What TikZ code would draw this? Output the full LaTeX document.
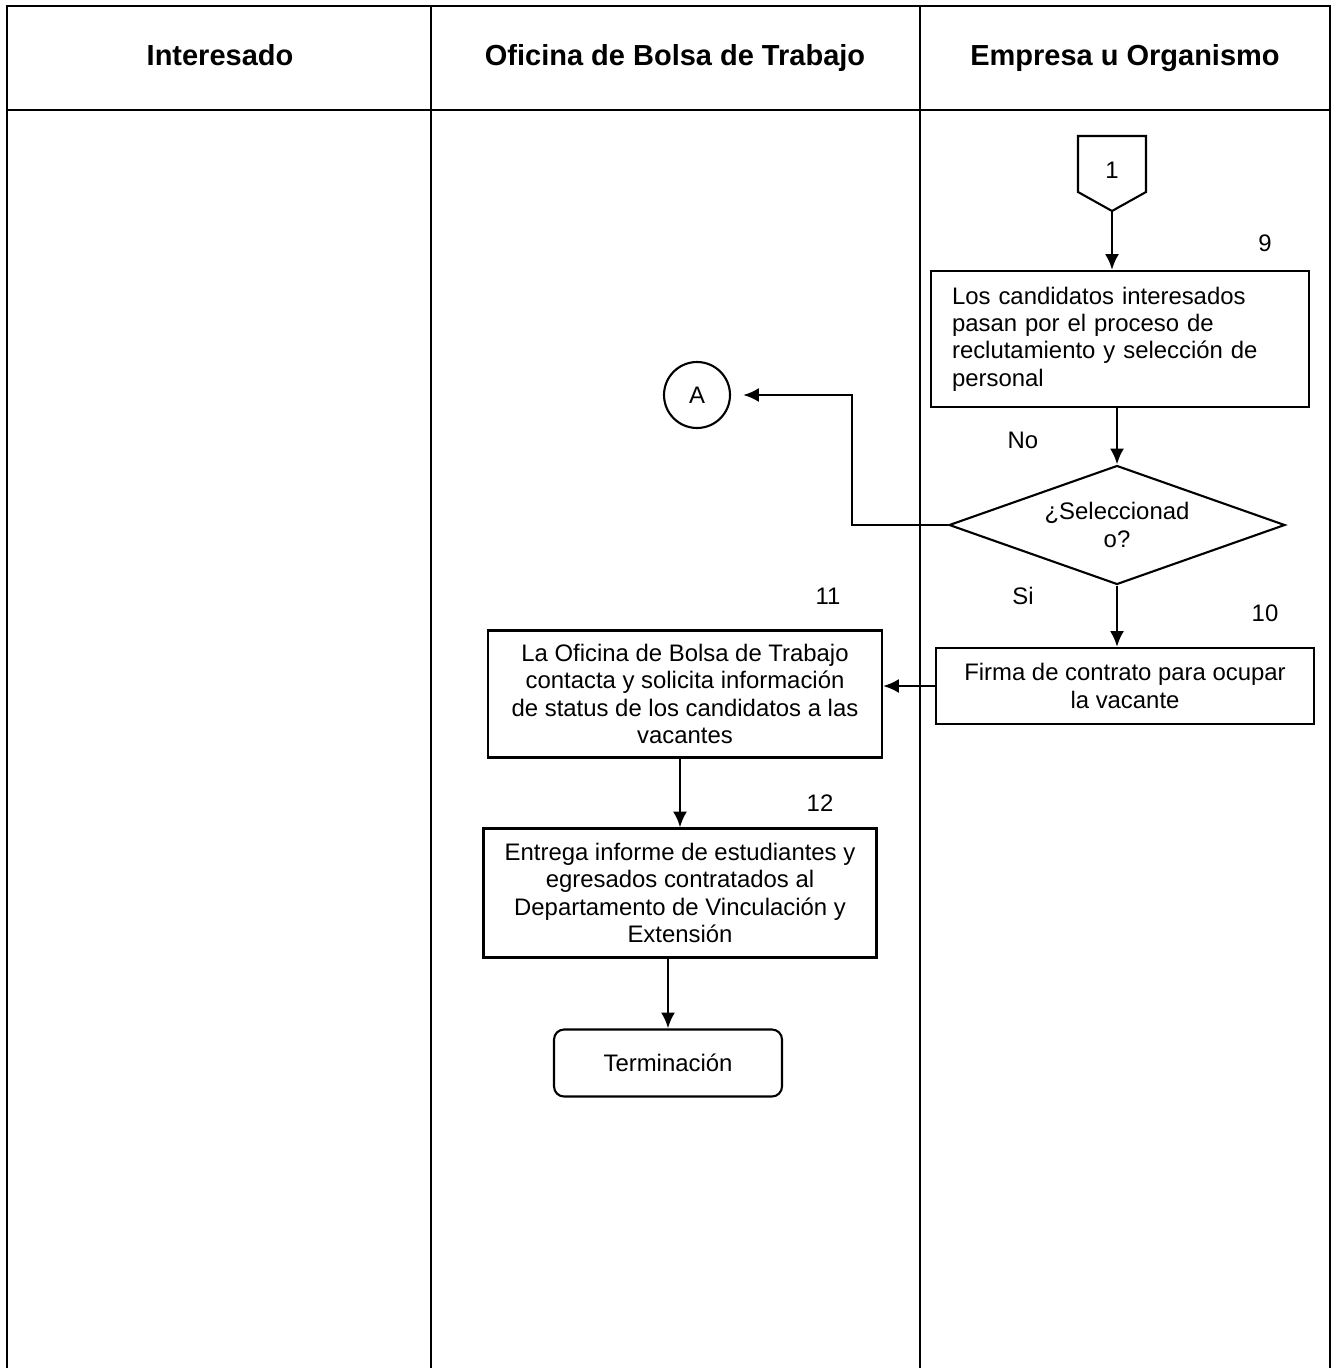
\documentclass[tikz,border=0pt]{standalone}
\usepackage{fontspec}
\setmainfont{Liberation Sans}
\usetikzlibrary{shapes.geometric,arrows.meta}
\begin{document}
\begin{tikzpicture}[x=0.02cm,y=-0.02cm,
  lane/.style={line width=1.1pt},
  txt/.style={font=\fontsize{13.6}{15.6}\selectfont},
  stepbox/.style={draw,line width=1.2pt,inner sep=0pt,align=center,txt},
  flow/.style={-{Latex[length=9pt,width=8pt]},line width=1.6pt},
  title/.style={font=\bfseries\fontsize{16.5}{19}\selectfont,text height=12pt,text depth=3.5pt}]
\useasboundingbox (0,0) rectangle (1334,1368);
%lanes
\draw[lane](7,1368)--(7,6)--(1330,6)--(1330,1368);
\draw[lane](7,110)--(1330,110);
\draw[lane](431,6)--(431,1368);
\draw[lane](920,6)--(920,1368);
\node[title](hInt) at (220,58){Interesado};
\node[title](hOfi) at (675,58){Oficina de Bolsa de Trabajo};
\node[title](hEmp) at (1125,58){Empresa u Organismo};
%connector 1
\draw[line width=1.2pt](1078,136)--(1146,136)--(1146,192)--(1112,211)--(1078,192)--cycle;
\node[txt](c1) at (1112,170){1};
\coordinate(c1tip) at (1112,211);
%steps
\node[stepbox,align=left,text width=6.72cm,inner xsep=0.42cm,minimum height=2.72cm](s9) at (1120,339)
  {Los candidatos interesados\\pasan por el proceso de\\reclutamiento y selección de\\personal};
\node[draw,diamond,aspect=2.8,minimum width=6.72cm,minimum height=2.38cm,inner sep=0pt,align=center,line width=1.2pt,txt](dec) at (1117,525)
  {¿Seleccionad\\o?};
\node[draw,circle,minimum size=1.32cm,inner sep=0pt,line width=1.2pt,txt](conA) at (697,395){A};
\coordinate(bend) at (852,395);
\node[stepbox,minimum width=7.56cm,minimum height=1.52cm](s10) at (1125,686)
  {Firma de contrato para ocupar\\la vacante};
\node[stepbox,minimum width=7.88cm,minimum height=2.54cm](s11) at (685,694)
  {La Oficina de Bolsa de Trabajo\\contacta y solicita información\\de status de los candidatos a las\\vacantes};
\node[stepbox,minimum width=7.86cm,minimum height=2.58cm](s12) at (680,893)
  {Entrega informe de estudiantes y\\egresados contratados al\\Departamento de Vinculación y\\Extensión};
\node[stepbox,rounded corners=0.2cm,minimum width=4.56cm,minimum height=1.34cm](term) at (668,1063){Terminación};
%numbers
\node[txt](n9) at (1265,243){9};
\node[txt](n10) at (1265,613){10};
\node[txt](n11) at (828,596){11};
\node[txt](n12) at (820,803){12};
\node[txt](lNo) at (1023,440){No};
\node[txt](lSi) at (1023,596){Si};
%arrows
\draw[flow](c1tip)--(c1tip|-s9.north);
\draw[flow](dec.north|-s9.south)--(dec.north);
\draw[flow,shorten >=0.24cm](dec.west)-|(bend)--(conA.east);
\draw[flow](dec.south)--(dec.south|-s10.north);
\draw[flow](s10.west)--(s10.west-|s11.east);
\draw[flow](s12.north|-s11.south)--(s12.north);
\draw[flow](term.north|-s12.south)--(term.north);
\end{tikzpicture}
\end{document}
